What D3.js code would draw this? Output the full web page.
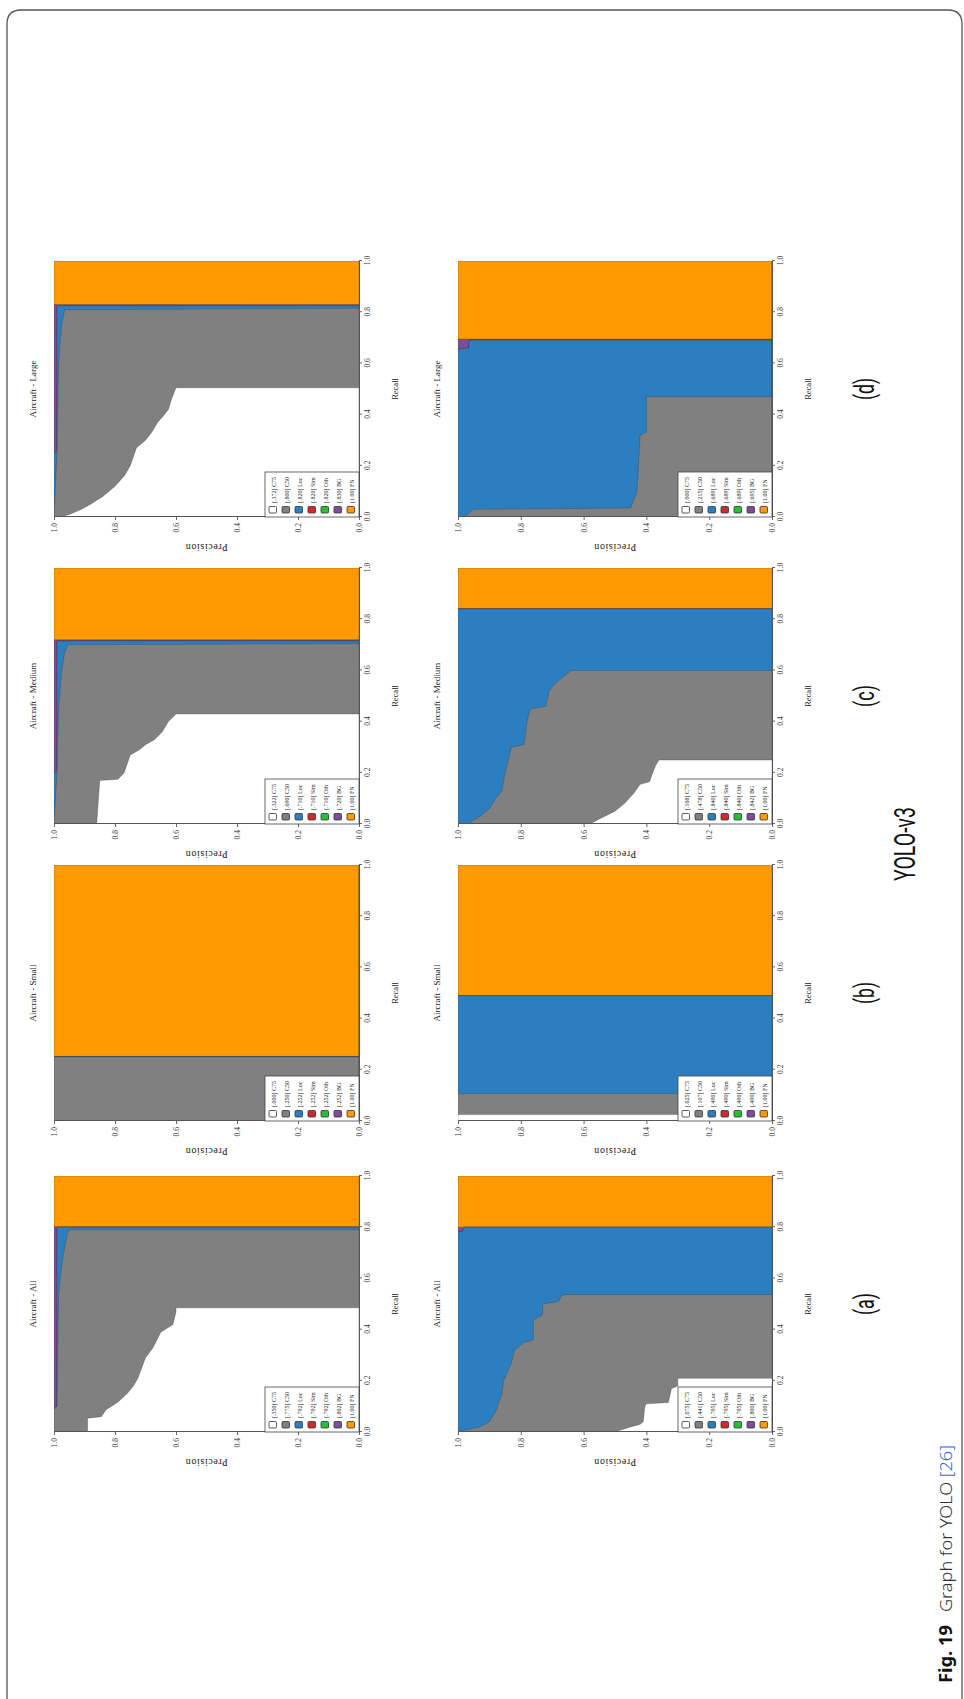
<!DOCTYPE html>
<html>
<head>
<meta charset="utf-8">
<script src="https://cdn.jsdelivr.net/npm/d3@7/dist/d3.min.js"></script>
<style>
body { margin: 0; background: #fff; }
svg { display: block; }
</style>
</head>
<body>
<svg id="fig" width="964" height="1699"></svg>
<script>
// legend order (top to bottom); painted in reverse
var seriesNames = ["C75", "C50", "Loc", "Sim", "Oth", "BG", "FN"];
var seriesColors = ["#ffffff", "#808080", "#2b7fc1", "#d5262b", "#22c230", "#7d4c9f", "#ff9a00"];
var panelTitles = ["Aircraft - All", "Aircraft - Small", "Aircraft - Medium", "Aircraft - Large"];
var panelLetters = ["(a)", "(b)", "(c)", "(d)"];
var tickValues = [0, 0.2, 0.4, 0.6, 0.8, 1.0];

// PR curves, points are [recall, precision]; each panel = [C75, C50, Loc, BG] (Sim and Oth equal Loc)
var topAll = [
    [[0, .89], [.054, .89], [.06, .845], [.086, .83], [.117, .79], [.15, .76], [.18, .74], [.21, .725], [.29, .70], [.33, .675], [.39, .65], [.42, .61], [.47, .60], [.485, .60], [.485, 0]],
    [[0, 1], [.09, 1], [.1, .99], [.53, .985], [.65, .975], [.72, .965], [.78, .955], [.79, .95], [.79, 0]],
    [[0, 1], [.09, 1], [.1, .99], [.80, .99], [.80, 0]],
    [[0, 1], [.802, 1], [.802, 0]]
];
var topSmall = [
    [[0, 0], [1, 0]],
    [[0, 1], [.25, 1], [.25, 0]],
    [[0, 1], [.252, 1], [.252, 0]],
    [[0, 1], [.252, 1], [.252, 0]]
];
var topMedium = [
    [[0, .86], [.17, .85], [.175, .79], [.2, .77], [.27, .75], [.29, .72], [.31, .70], [.33, .67], [.36, .645], [.40, .625], [.43, .60], [.43, 0]],
    [[0, 1], [.2, .99], [.45, .985], [.6, .975], [.67, .965], [.70, .955], [.705, 0]],
    [[0, 1], [.2, 1], [.21, .99], [.715, .99], [.715, 0]],
    [[0, 1], [.72, 1], [.72, 0]]
];
var topLarge = [
    [[0, .98], [.01, .95], [.03, .91], [.05, .88], [.08, .84], [.12, .80], [.16, .77], [.20, .75], [.27, .73], [.30, .70], [.33, .68], [.37, .66], [.39, .645], [.42, .625], [.46, .615], [.505, .60], [.505, 0]],
    [[0, 1], [.25, .99], [.6, .985], [.75, .975], [.81, .965], [.815, 0]],
    [[0, 1], [.25, 1], [.26, .99], [.825, .99], [.825, 0]],
    [[0, 1], [.83, 1], [.83, 0]]
];
var bottomAll = [
    [[0, .50], [.005, .49], [.02, .45], [.03, .42], [.04, .41], [.10, .405], [.11, .40], [.115, .33], [.17, .32], [.18, .30], [.21, .30], [.21, 0]],
    [[0, 1], [.01, .97], [.02, .93], [.04, .90], [.08, .88], [.15, .86], [.2, .855], [.27, .83], [.32, .82], [.34, .80], [.35, .79], [.36, .76], [.44, .76], [.45, .74], [.46, .73], [.50, .73], [.51, .68], [.533, .67], [.537, .66], [.537, 0]],
    [[0, 1], [.78, 1], [.785, .985], [.80, .98], [.80, 0]],
    [[0, 1], [.80, 1], [.80, 0]]
];
var bottomSmall = [
    [[0, 1], [.025, 1], [.025, 0]],
    [[0, 1], [.107, 1], [.107, 0]],
    [[0, 1], [.49, 1], [.49, 0]],
    [[0, 1], [.49, 1], [.49, 0]]
];
var bottomMedium = [
    [[0, .58], [.02, .55], [.05, .50], [.08, .47], [.12, .44], [.155, .42], [.165, .39], [.2, .38], [.23, .37], [.25, .36], [.25, 0]],
    [[0, .97], [.03, .93], [.06, .90], [.10, .88], [.13, .86], [.20, .85], [.30, .83], [.31, .79], [.40, .78], [.45, .77], [.46, .72], [.52, .71], [.55, .69], [.58, .66], [.60, .64], [.60, 0]],
    [[0, 1], [.84, 1], [.84, 0]],
    [[0, 1], [.842, 1], [.842, 0]]
];
var bottomLarge = [
    [[0, 0], [1, 0]],
    [[0, .99], [.01, .97], [.03, .95], [.035, .45], [.1, .43], [.32, .42], [.33, .40], [.47, .40], [.47, 0]],
    [[0, 1], [.655, 1], [.66, .965], [.69, .965], [.69, 0]],
    [[0, 1], [.695, 1], [.695, 0]]
];

// legend values (area under each curve), same order as seriesNames
var topAllAP = [.350, .775, .792, .792, .792, .802, 1.00];
var topSmallAP = [.000, .250, .252, .252, .252, .252, 1.00];
var topMediumAP = [.322, .690, .710, .710, .710, .720, 1.00];
var topLargeAP = [.372, .800, .820, .820, .820, .830, 1.00];
var bottomAllAP = [.075, .441, .795, .795, .795, .800, 1.00];
var bottomSmallAP = [.025, .107, .490, .490, .490, .490, 1.00];
var bottomMediumAP = [.108, .478, .840, .840, .840, .842, 1.00];
var bottomLargeAP = [.000, .215, .689, .689, .689, .695, 1.00];

var topRow = [topAll, topSmall, topMedium, topLarge];
var bottomRow = [bottomAll, bottomSmall, bottomMedium, bottomLarge];
var topRowAP = [topAllAP, topSmallAP, topMediumAP, topLargeAP];
var bottomRowAP = [bottomAllAP, bottomSmallAP, bottomMediumAP, bottomLargeAP];

var SERIF = "'Liberation Serif', 'DejaVu Serif', serif";
var SANS = "Roboto, 'Noto Sans', sans-serif";

var svg = d3.select("#fig");

// page frame (only top, left and right edges are visible)
svg.append("path")
    .attr("d", "M7,1699 V24 Q7,10 21,10 H948 Q962,10 962,24 V1699")
    .attr("fill", "none")
    .attr("stroke", "#555")
    .attr("stroke-width", 1.3);

// whole figure is laid out landscape and turned a quarter turn
var fig = svg.append("g").attr("transform", "translate(0,1699) rotate(-90)");

var panelLeft = [267, 578, 875, 1182]; // left edge of each column
var panelWidth = 256;
var rowSpans = [[54, 359], [458, 772]]; // top / bottom of plot area, per row

var apFormat = function (v) {
    return v >= 1 ? "1.00" : d3.format(".3f")(v).replace(/^0/, "");
};

function drawPanel(curves, ap, title, u0, vTop, vBottom, id) {
    var x = d3.scaleLinear().domain([0, 1]).range([u0, u0 + panelWidth]);
    var y = d3.scaleLinear().domain([0, 1]).range([vBottom, vTop]);
    var g = fig.append("g");

    g.append("clipPath").attr("id", id)
        .append("rect")
        .attr("x", x(0)).attr("y", y(1))
        .attr("width", x(1) - x(0)).attr("height", y(0) - y(1));

    var loc = curves[2];
    var layers = [curves[0], curves[1], loc, loc, loc, curves[3], [[0, 1], [1, 1]]];

    var area = d3.area()
        .x(function (d) { return x(d[0]); })
        .y0(y(0))
        .y1(function (d) { return y(d[1]); });

    var plot = g.append("g").attr("clip-path", "url(#" + id + ")");
    for (var i = layers.length - 1; i >= 0; i--) {
        plot.append("path")
            .datum(layers[i])
            .attr("d", area)
            .attr("fill", seriesColors[i])
            .attr("stroke", "#3a3a3a")
            .attr("stroke-opacity", 0.55)
            .attr("stroke-width", 0.6);
    }

    // axes
    var xAxis = g.append("g")
        .attr("transform", "translate(0," + y(0) + ")")
        .call(d3.axisBottom(x).tickValues(tickValues).tickFormat(d3.format(".1f")).tickSize(3));
    var yAxis = g.append("g")
        .attr("transform", "translate(" + x(0) + ",0)")
        .call(d3.axisLeft(y).tickValues(tickValues).tickFormat(d3.format(".1f")).tickSize(3));
    [xAxis, yAxis].forEach(function (a) {
        a.selectAll("text").attr("font-family", SERIF).attr("font-size", 7.5).attr("fill", "#333");
        a.selectAll("line").attr("stroke", "#666");
        a.select(".domain").attr("stroke", "#555");
    });

    g.append("text")
        .attr("x", (x(0) + x(1)) / 2).attr("y", vTop - 18)
        .attr("text-anchor", "middle")
        .attr("font-family", SERIF).attr("font-size", 9).attr("fill", "#222")
        .text(title);
    g.append("text")
        .attr("x", (x(0) + x(1)) / 2).attr("y", vBottom + 39)
        .attr("text-anchor", "middle")
        .attr("font-family", SERIF).attr("font-size", 8.5).attr("fill", "#222")
        .text("Recall");
    g.append("text")
        .attr("transform", "translate(" + (x(0) - 27) + "," + ((vTop + vBottom) / 2) + ") rotate(-90)")
        .attr("text-anchor", "middle")
        .attr("font-family", SERIF).attr("font-size", 10).attr("fill", "#222")
        .attr("letter-spacing", 0.6)
        .text("Precision");

    // legend in the lower left corner
    var lw = 45, lh = 94;
    var lg = g.append("g").attr("transform", "translate(" + x(0) + "," + (y(0) - lh) + ")");
    lg.append("rect")
        .attr("width", lw).attr("height", lh)
        .attr("fill", "#fff").attr("stroke", "#444").attr("stroke-width", 0.8);
    seriesNames.forEach(function (name, k) {
        var row = lg.append("g").attr("transform", "translate(4," + (4 + k * 13) + ")");
        row.append("rect")
            .attr("width", 6.5).attr("height", 7.5).attr("rx", 1)
            .attr("fill", seriesColors[k]).attr("stroke", "#333").attr("stroke-width", 0.8);
        row.append("text")
            .attr("x", 10).attr("y", 6.5)
            .attr("font-family", SERIF).attr("font-size", 6).attr("fill", "#222")
            .text("[" + apFormat(ap[k]) + "] " + name);
    });
}

[topRow, bottomRow].forEach(function (row, r) {
    var aps = r == 0 ? topRowAP : bottomRowAP;
    row.forEach(function (curves, c) {
        drawPanel(curves, aps[c], panelTitles[c], panelLeft[c], rowSpans[r][0], rowSpans[r][1], "clip" + r + c);
    });
});

// sub-figure letters and model name
panelLetters.forEach(function (t, c) {
    fig.append("text")
        .attr("x", panelLeft[c] + panelWidth / 2).attr("y", 874)
        .attr("text-anchor", "middle")
        .attr("font-family", SANS).attr("font-size", 27).attr("fill", "#111")
        .attr("textLength", 22).attr("lengthAdjust", "spacingAndGlyphs")
        .text(t);
});
fig.append("text")
    .attr("x", 855).attr("y", 915)
    .attr("text-anchor", "middle")
    .attr("font-family", SANS).attr("font-size", 30).attr("fill", "#111")
    .attr("textLength", 74).attr("lengthAdjust", "spacingAndGlyphs")
    .text("YOLO-v3");

// caption
fig.append("text")
    .attr("x", 16).attr("y", 952)
    .attr("font-family", "'Noto Sans', 'Open Sans', sans-serif").attr("font-size", 17)
    .attr("font-weight", "bold").attr("fill", "#111")
    .attr("textLength", 58).attr("lengthAdjust", "spacingAndGlyphs")
    .text("Fig. 19");
var cap = fig.append("text")
    .attr("x", 87).attr("y", 952)
    .attr("font-family", "'Noto Sans', 'Open Sans', sans-serif").attr("font-size", 17)
    .attr("font-weight", 300).attr("fill", "#333")
    .attr("textLength", 167).attr("lengthAdjust", "spacingAndGlyphs");
cap.append("tspan").text("Graph for YOLO ");
cap.append("tspan").attr("fill", "#3b63d8").text("[26]");
</script>
</body>
</html>
